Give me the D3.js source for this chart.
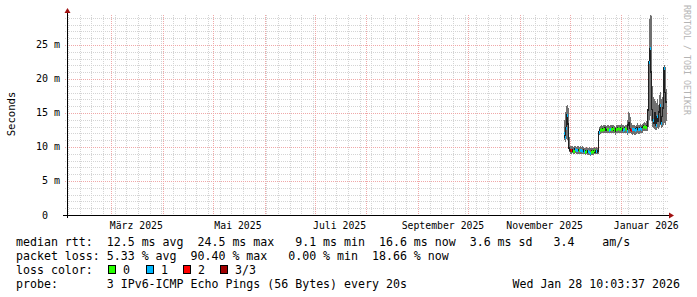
<!DOCTYPE html>
<html><head><meta charset="utf-8">
<script src="https://cdn.jsdelivr.net/npm/d3@7"></script>
<style>
html,body{margin:0;padding:0;background:#fff;}
svg{display:block;}
text{font-family:"DejaVu Sans Mono",monospace;white-space:pre;}
</style></head>
<body>
<script>
// ---- data (one consolidated step per pixel column, 0.6 day each) ----
const firstStep = "2025-11-27T15:00:00Z";
const median = [
 12.0,11.4,12.8,14.7,13.4, 9.8, 9.5, 9.5, 9.6, 9.4,
  9.4, 9.7, 9.6, 9.6, 9.5, 9.5, 9.6, 9.5, 9.4, 9.5,
  9.4, 9.3, 9.4, 9.2, 9.4, 9.3, 9.1, 9.2, 9.4, 9.3,
  9.5, 9.3, 9.4, 9.3, 9.4,12.2,12.5,12.6,12.5,12.7,
 12.6,12.8,12.5,12.6,12.7,12.5,12.6,12.7,12.6,12.8,
 12.5,12.3,12.7,12.6,12.8,12.7,12.6,12.8,12.7,12.5,
 12.6,12.8,12.7,12.4,13.3,13.5,12.7,12.5,12.6,12.7,
 12.6,12.5,12.7,12.8,12.6,12.7,12.8,12.7,12.9,13.0,
 13.1,13.0,12.9,13.1,15.5,22.5,24.5,21.0,15.5,14.0,
 13.5,15.0,13.2,14.5,13.8,15.2,16.2,13.5,14.5,15.8,
 21.6,18.0,16.6];
const smokeLo = [
 11.0,10.8,11.2,11.0,10.5, 9.3, 9.0, 9.0, 9.1, 8.9,
  9.0, 9.1, 9.0, 9.0, 9.0, 8.9, 9.0, 9.0, 8.9, 8.9,
  8.9, 8.8, 8.9, 8.8, 8.8, 8.8, 8.7, 8.8, 8.8, 8.8,
  8.9, 8.9, 8.9, 8.9, 9.0,11.8,11.9,12.0,12.0,12.1,
 12.0,12.1,12.0,12.0,12.1,12.0,12.0,12.1,12.0,12.1,
 12.0,11.8,12.1,12.0,12.1,12.1,12.0,12.1,12.0,12.0,
 12.0,12.1,12.1,11.8,12.0,12.1,12.0,11.9,11.8,11.9,
 11.8,11.8,11.9,12.0,11.9,11.9,12.0,12.0,12.1,12.3,
 12.4,12.4,12.3,12.4,13.0,14.0,14.5,13.8,13.0,12.8,
 12.7,12.5,12.5,12.8,12.6,13.0,13.2,12.8,13.0,13.3,
 13.5,13.2,13.8];
const smokeHi = [
 14.0,15.2,16.0,16.2,15.8,11.5,10.2,10.1,10.2,10.0,
 10.1,10.2,10.0,10.2,10.1,10.0,10.1,10.0,10.1,10.0,
  9.9, 9.9,10.0, 9.9, 9.9,10.0, 9.8, 9.9, 9.9, 9.8,
 10.0, 9.9,10.0, 9.9,10.0,12.9,13.1,13.2,13.1,13.3,
 13.2,13.3,13.1,13.2,13.2,13.1,13.2,13.3,13.2,13.3,
 13.1,13.0,13.3,13.2,13.3,13.2,13.2,13.4,13.3,13.2,
 13.1,13.3,13.3,14.0,15.2,15.0,14.4,13.6,13.2,13.2,
 13.3,13.1,13.3,13.6,13.2,13.3,13.4,13.3,13.4,13.6,
 13.7,13.6,13.8,14.2,21.0,28.8,29.4,29.2,19.0,17.4,
 17.0,16.8,16.5,17.0,16.2,17.6,18.1,17.0,17.3,21.5,
 22.0,21.8,18.5];
// loss class per step: 0,1,2,3 pings lost of 3; -1 = no coloured mark
const lossClass = [
  1, 1, 1, 1,-1,-1, 3, 2,-1, 0,
  0, 1, 1, 1,-1, 0, 1, 1, 1,-1,
  1, 0, 0,-1, 1, 1, 1, 0, 0, 0,
  0,-1, 1,-1,-1, 1, 0, 0, 0, 0,
  0,-1,-1, 0, 0, 1, 1, 0, 0, 0,
  0,-1, 0, 0, 0, 0, 0, 0,-1, 1,
  1, 0, 0, 1,-1,-1, 3, 2, 1, 1,
  1, 1, 1,-1, 1, 1, 1, 1,-1, 0,
  0, 0, 0,-1,-1, 1, 1,-1,-1, 1,
 -1,-1, 1, 1,-1,-1, 1, 1,-1,-1,
  1,-1,-1];
const lossColors = ["#26ff00","#00b8ff","#ff0000","#a00000"];
const lossLabels = ["0","1","2","3/3"];
const yTicks = [0,5,10,15,20,25];
const yTickLabels = ["0","5 m","10 m","15 m","20 m","25 m"];
const monthLabels = ["März 2025","Mai 2025","Juli 2025","September 2025","November 2025","Januar 2026"];
const monthLabelDates = ["2025-03-01","2025-05-01","2025-07-01","2025-09-01","2025-11-01","2026-01-01"];
const legendLines = [
 "median rtt:  12.5 ms avg  24.5 ms max   9.1 ms min  16.6 ms now  3.6 ms sd   3.4    am/s",
 "packet loss:  5.33 % avg  90.40 % max   0.00 % min  18.66 % now"
];
const probeText = "probe:       3 IPv6-ICMP Echo Pings (56 Bytes) every 20s";
const dateText = "Wed Jan 28 10:03:37 2026";

// ---- layout ----
const W=697,H=297;
const X0=67,X1=667,Y0=215,Y1=15;
const endT = new Date("2026-01-28T10:03:37Z");
const startT = new Date(endT.getTime()-360*864e5);
const stepMs = 0.6*864e5;
const t0 = new Date(firstStep).getTime();

const x = d3.scaleUtc().domain([startT,endT]).range([X0,X1]);
const y = d3.scaleLinear().domain([0,29.41]).range([Y0,Y1]);

const svg = d3.select("body").append("svg").attr("width",W).attr("height",H);
svg.append("rect").attr("width",W).attr("height",H).attr("fill","#fff");

const px = v => Math.round(v)+0.5;

// grid
const g = svg.append("g").attr("shape-rendering","crispEdges");
d3.range(1,30).filter(v=>v%5!==0).forEach(v=>{
  g.append("line").attr("x1",X0-2).attr("x2",X1+2).attr("y1",px(y(v))).attr("y2",px(y(v)))
   .attr("stroke","#d4d4d4").attr("stroke-dasharray","1,1");
});
d3.utcMonday.range(startT,endT).forEach(d=>{
  g.append("line").attr("x1",px(x(d))).attr("x2",px(x(d))).attr("y1",Y1).attr("y2",Y0+2)
   .attr("stroke","#d4d4d4").attr("stroke-dasharray","1,1");
});
yTicks.filter(v=>v>0).forEach(v=>{
  g.append("line").attr("x1",X0-2).attr("x2",X1+2).attr("y1",px(y(v))).attr("y2",px(y(v)))
   .attr("stroke","#f0a8a8").attr("stroke-dasharray","1,1");
});
d3.utcMonth.range(startT,endT).forEach(d=>{
  g.append("line").attr("x1",px(x(d))).attr("x2",px(x(d))).attr("y1",Y1).attr("y2",Y0+2)
   .attr("stroke","#f0a8a8").attr("stroke-dasharray","1,1");
});

// data
const steps = median.map((m,i)=>({t:new Date(t0+i*stepMs),m,lo:smokeLo[i],hi:Math.min(smokeHi[i],29.41),l:lossClass[i]}));
const plot = svg.append("g").attr("shape-rendering","crispEdges");
plot.selectAll("rect.smoke").data(steps).join("rect").attr("class","smoke")
  .attr("x",d=>Math.round(x(d.t))).attr("width",1)
  .attr("y",d=>Math.round(y(d.hi))).attr("height",d=>Math.max(1,Math.round(y(d.lo))-Math.round(y(d.hi))))
  .attr("fill","#707070");
plot.append("path").datum(steps)
  .attr("d",d3.line().x(d=>Math.round(x(d.t))+0.5).y(d=>y(d.m)).curve(d3.curveStepBefore))
  .attr("fill","none").attr("stroke","#202020").attr("stroke-width",1.5);
plot.selectAll("rect.med").data(steps).join("rect").attr("class","med")
  .attr("x",d=>Math.round(x(d.t))).attr("width",1)
  .attr("y",d=>Math.round(y(d.m))-1).attr("height",d=>d.l<0?2:3)
  .attr("fill",d=>d.l<0?"#202020":lossColors[d.l]);

// axes
const ax = svg.append("g").attr("shape-rendering","crispEdges");
ax.append("line").attr("x1",X0-4).attr("x2",X1+3).attr("y1",Y0+0.5).attr("y2",Y0+0.5).attr("stroke","#000");
ax.append("line").attr("x1",X0+0.5).attr("x2",X0+0.5).attr("y1",Y0+3).attr("y2",Y1-3).attr("stroke","#000");
svg.append("path").attr("d",`M${X0-2.5},${Y1-2} L${X0+3.5},${Y1-2} L${X0+0.5},${Y1-7} Z`).attr("fill","#a01010");
svg.append("path").attr("d",`M${X1+2},${Y0-2.5} L${X1+2},${Y0+3.5} L${X1+7},${Y0+0.5} Z`).attr("fill","#a01010");

// y labels
yTicks.forEach((v,i)=>{
  svg.append("text").attr("x",v===0?48:60).attr("y",y(v)+3.5).attr("text-anchor","end")
   .attr("font-size","10px").attr("fill","#000").text(yTickLabels[i]);
});
// x labels centered at month + 15 days
monthLabels.forEach((s,i)=>{
  const d = new Date(new Date(monthLabelDates[i]+"T00:00:00Z").getTime()+15*864e5);
  svg.append("text").attr("x",x(d)).attr("y",228.5).attr("text-anchor","middle")
   .attr("font-size","9.8px").attr("fill","#000").text(s);
});
// axis title
svg.append("text").attr("transform","translate(14.5,114) rotate(-90)").attr("text-anchor","middle")
  .attr("font-size","10.6px").attr("fill","#000").text("Seconds");
// watermark
svg.append("text").attr("transform","translate(684,5) rotate(90)").attr("text-anchor","start")
  .attr("font-size","8.3px").attr("fill","#b4b4b4").text("RRDTOOL / TOBI OETIKER");

// legend
const fs="11.6px";
svg.append("text").attr("x",16).attr("y",245.5).attr("font-size",fs).text(legendLines[0]);
svg.append("text").attr("x",16).attr("y",259.5).attr("font-size",fs).text(legendLines[1].replace("  5.33"," 5.33"));
svg.append("text").attr("x",16).attr("y",273.5).attr("font-size",fs).text("loss color:");
const boxX=[108,146,183,220];
lossLabels.forEach((s,i)=>{
  svg.append("rect").attr("x",boxX[i]+0.5).attr("y",265.5).attr("width",7).attr("height",8)
    .attr("fill",lossColors[i]).attr("stroke","#000").attr("shape-rendering","crispEdges");
  svg.append("text").attr("x",boxX[i]+15).attr("y",273.5).attr("font-size",fs).text(s);
});
svg.append("text").attr("x",16).attr("y",287.5).attr("font-size",fs).text(probeText);
svg.append("text").attr("x",680).attr("y",287.5).attr("text-anchor","end").attr("font-size",fs).text(dateText);
</script>
</body></html>
